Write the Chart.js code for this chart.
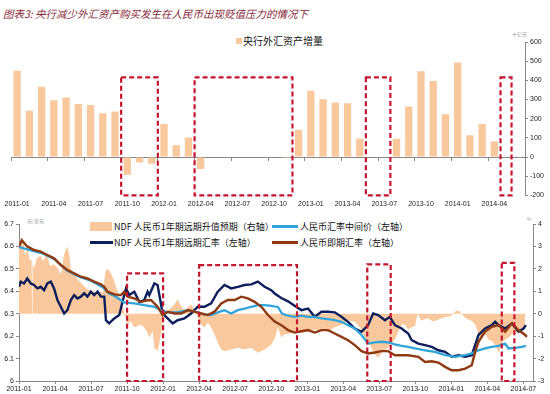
<!DOCTYPE html>
<html>
<head>
<meta charset="utf-8">
<script src="https://cdn.jsdelivr.net/npm/chart.js@4/dist/chart.umd.min.js"></script>
<style>
body { margin:0; width:550px; height:394px; position:relative; background:#fff; overflow:hidden; font-family:"Noto Sans CJK SC", sans-serif; }
canvas { position:absolute; left:0; }
.txt { position:absolute; white-space:nowrap; line-height:1; }
#title { left:3px; top:9px; font-size:10.5px; font-style:italic; color:#862838; }
.sw { position:absolute; }
.lg { font-size:9px; color:#111; }
.unit { font-size:5px; color:#999; }
</style>
</head>
<body>
<div id="title" class="txt">图表3: 央行减少外汇资产购买发生在人民币出现贬值压力的情况下</div>
<div class="sw" style="left:236px;top:38px;width:6px;height:6px;background:#f9c99d"></div>
<div class="txt" style="left:243px;top:36px;font-size:10px;color:#111">央行外汇资产增量</div>
<div class="txt unit" style="left:512px;top:31px">十亿元</div>

<div class="sw" style="left:90px;top:222px;width:22px;height:9px;background:#f9c99d"></div>
<div class="txt lg" style="left:114px;top:222px">NDF 人民币1年期远期升值预期（右轴）</div>
<div class="sw" style="left:272px;top:225px;width:26px;height:2.5px;background:#31a4da"></div>
<div class="txt lg" style="left:300px;top:222px">人民币汇率中间价（左轴）</div>
<div class="sw" style="left:90px;top:241px;width:23px;height:2.5px;background:#0c1f5c"></div>
<div class="txt lg" style="left:114px;top:238px">NDF 人民币1年期远期汇率（左轴）</div>
<div class="sw" style="left:272px;top:241px;width:26px;height:2.5px;background:#8e3a12"></div>
<div class="txt lg" style="left:300px;top:238px">人民币即期汇率（左轴）</div>
<div class="txt unit" style="left:27px;top:218px">元/美元</div>
<div class="txt unit" style="left:527px;top:216px">%</div>

<canvas id="topChart" width="550" height="212" style="top:0"></canvas>
<canvas id="bottomChart" width="550" height="189" style="top:205px"></canvas>

<script>
// 上图：央行外汇资产月度增量（十亿元）
var topLabels = ['2011-01','2011-02','2011-03','2011-04','2011-05','2011-06','2011-07','2011-08','2011-09','2011-10','2011-11','2011-12',
                 '2012-01','2012-02','2012-03','2012-04','2012-05','2012-06','2012-07','2012-08','2012-09','2012-10','2012-11','2012-12',
                 '2013-01','2013-02','2013-03','2013-04','2013-05','2013-06','2013-07','2013-08','2013-09','2013-10','2013-11','2013-12',
                 '2014-01','2014-02','2014-03','2014-04','2014-05','2014-06'];
var fxAssets = [450, 242, 367, 296, 310, 277, 271, 228, 237, -92, -28, -35,
                173, 61, 102, -62, 0, 0, 0, 0, 0, 0, -5, 142,
                346, 301, 284, 280, 97, 0, 0, 95, 263, 448, 396, 223,
                493, 114, 173, 81, 0, 0];
// 红框 [起, 止, 下, 上]
var topBoxes = [[8.5, 11.5, -200, 415], [14.5, 22.5, -200, 415], [28.5, 30.5, -200, 415], [39.5, 40.4, -200, 415]];

// 下图：时间为自2011-01起的月数
var bottomTicks = ['2011-01','2011-04','2011-07','2011-10','2012-01','2012-04','2012-07','2012-10',
                   '2013-01','2013-04','2013-07','2013-10','2014-01','2014-04','2014-07'];

var ndfT = [0, 0.14, 0.3, 0.5, 0.7, 0.9, 1.05, 1.09, 1.13, 1.25, 1.5, 1.8, 2.0, 2.3, 2.6, 2.9, 3.2, 3.5, 3.75, 4.03, 4.2, 4.3,
            4.6, 4.9, 5.15, 5.4, 5.7, 6.0, 6.26, 6.5, 6.82, 7.0, 7.2, 7.37, 7.65, 7.93, 8.2, 8.5, 8.76, 9.04, 9.3, 9.6,
            9.87, 10.16, 10.43, 10.71, 10.85, 11.0, 11.13, 11.27, 11.54, 11.83, 11.96, 12.1, 12.38, 12.66, 12.94, 13.21,
            13.5, 13.77, 14.05, 14.33, 14.61, 14.88, 15.17, 15.44, 15.72, 16.0, 16.28, 16.55, 16.84, 17.11, 17.67, 18.22,
            18.78, 19.34, 19.89, 20.45, 21.01, 21.29, 21.56, 21.84, 22.12, 22.4, 22.95, 23.51, 24.07, 24.62, 25.18, 25.73,
            26.29, 26.85, 27.4, 27.96, 28.38, 28.8, 29.2, 29.63, 29.91, 30.19, 30.74, 31.3, 31.86, 32.13, 32.41, 32.7,
            32.97, 33.2, 33.5, 34.0, 34.5, 35.0, 35.5, 36.0, 36.3, 36.6, 36.9, 37.2, 37.7, 37.98, 38.26, 38.54, 38.81,
            39.09, 39.37, 39.65, 39.93, 40.2, 40.48, 40.76, 41.04, 41.59, 42.15];
var ndfPremium = [3.3, 2.9, 3.4, 2.6, 2.9, 2.4, 2.4, 0, 2.3, 2.0, 2.5, 2.57, 2.35, 2.65, 2.13, 2.2, 2.05, 1.76, 2.65, 3.0, 2.6, 2.05,
            1.76, 1.53, 1.38, 1.24, 1.09, 1.01, 1.0, 0.86, 1.0, 0.94, 1.9, 2.0, 1.83, 1.46, 1.0, 0.56, 0.04, -0.48, -0.33, -0.62,
            -0.55, -0.48, -0.62, -0.85, -1.07, -0.92, -0.77, -1.52, -1.67, -0.92, -0.25, 0, 0.12, 0.27, 0.42, 0.64,
            0.34, 0.12, 0.27, 0.42, 0.19, -0.18, -0.48, -0.62, -0.4, -0.62, -0.92, -1.29, -1.59, -1.67, -1.59, -1.52,
            -1.59, -1.52, -1.74, -1.59, -1.37, -1.1, -0.6, -1.07, -0.92, -0.9, -0.8, -0.85, -0.8, -0.7, -0.75, -0.8,
            -0.6, -0.5, -0.3, -0.35, -0.62, -1.07, -1.37, -1.82, -1.96, -1.74, -1.52, -1.15, -0.48, -0.48, -0.7, -0.6,
            -0.55, 0, -0.3, -0.2, -0.35, -0.25, -0.15, -0.1, 0.1, 0.15, -0.05, -0.2, -0.33, -0.48, -0.92, -1.07, -0.92,
            -1.15, -1.22, -1.37, -1.74, -1.29, -1.15, -1.07, -0.92, -0.77, -0.62];

var fwdT = [0, 0.14, 0.42, 0.69, 0.98, 1.25, 1.53, 1.81, 2.09, 2.36, 2.65, 2.92, 3.2, 3.48, 3.76, 4.03, 4.32, 4.59, 4.87,
            5.15, 5.43, 5.7, 5.98, 6.26, 6.54, 6.82, 7.1, 7.24, 7.51, 7.93, 8.35, 8.62, 8.91, 9.18, 9.6, 10.02, 10.43,
            10.71, 10.85, 11.27, 11.54, 11.69, 11.96, 12.38, 12.8, 13.21, 13.77, 14.33, 14.88, 15.44, 16.0, 16.55, 17.11,
            17.67, 18.22, 18.78, 19.34, 19.89, 20.45, 21.01, 21.29, 21.84, 22.4, 22.95, 23.51, 24.07, 24.62, 25.18, 25.73,
            26.29, 26.85, 27.4, 27.96, 28.52, 29.07, 29.49, 29.91, 30.47, 30.88, 31.3, 31.86, 32.41, 32.7, 33.25, 33.81,
            34.37, 34.92, 35.48, 36.03, 36.59, 37.15, 37.7, 37.98, 38.26, 38.81, 39.37, 39.65, 39.93, 40.48, 41.04, 41.59,
            42.01, 42.21];
var fwdRate = [6.42, 6.443, 6.435, 6.457, 6.435, 6.428, 6.413, 6.42, 6.405, 6.435, 6.443, 6.413, 6.361, 6.331, 6.301, 6.316, 6.361, 6.383, 6.368,
            6.376, 6.391, 6.376, 6.398, 6.383, 6.398, 6.376, 6.376, 6.271, 6.257, 6.279, 6.294, 6.353, 6.413, 6.383, 6.398, 6.353, 6.361,
            6.398, 6.383, 6.435, 6.428, 6.383, 6.301, 6.279, 6.257, 6.271, 6.279, 6.301, 6.331, 6.331, 6.346, 6.398, 6.428,
            6.413, 6.42, 6.428, 6.431, 6.443, 6.42, 6.405, 6.39, 6.37, 6.355, 6.335, 6.316, 6.323, 6.286, 6.309, 6.309,
            6.306, 6.286, 6.264, 6.234, 6.219, 6.249, 6.301, 6.294, 6.271, 6.286, 6.249, 6.234, 6.212, 6.182, 6.167, 6.16,
            6.152, 6.137, 6.13, 6.108, 6.115, 6.108, 6.115, 6.16, 6.205, 6.234, 6.249, 6.264, 6.249, 6.234, 6.257, 6.22,
            6.234, 6.249];

var parityT = [0, 1, 2, 3, 4, 5, 6, 7, 7.5, 8, 8.76, 9.6, 10.43, 11.27, 11.83, 12.38, 13.21, 14.05, 14.88, 15.44, 16.0,
            16.55, 17.11, 17.67, 18.22, 18.78, 19.34, 19.89, 20.45, 21.01, 21.56, 21.9, 22.4, 22.95, 23.51, 24.07, 24.62,
            25.18, 25.73, 26.29, 26.85, 27.4, 27.96, 28.52, 29.07, 29.63, 30.19, 30.74, 31.3, 31.86, 32.41, 32.97, 33.81,
            34.64, 35.48, 36.31, 37.15, 37.7, 38.26, 38.81, 39.37, 39.93, 40.48, 40.76, 41.32, 41.88, 42.21];
var parityRate = [6.597, 6.582, 6.568, 6.542, 6.492, 6.465, 6.447, 6.417, 6.39, 6.378, 6.35, 6.346, 6.338, 6.331, 6.316, 6.306, 6.306, 6.316, 6.306, 6.297, 6.294,
            6.306, 6.316, 6.301, 6.316, 6.323, 6.331, 6.338, 6.338, 6.335, 6.33, 6.301, 6.291, 6.286, 6.291, 6.286, 6.286,
            6.279, 6.276, 6.271, 6.264, 6.249, 6.234, 6.205, 6.167, 6.172, 6.175, 6.172, 6.163, 6.157, 6.152, 6.145, 6.137,
            6.13, 6.115, 6.108, 6.115, 6.123, 6.137, 6.145, 6.152, 6.157, 6.167, 6.145, 6.148, 6.152, 6.157];

var spotT = [0, 0.23, 0.69, 1.25, 1.81, 2.36, 2.92, 3.48, 4.03, 4.59, 5.15, 5.7, 6.26, 6.82, 7.1, 7.37, 7.93, 8.49, 8.76,
            9.04, 9.6, 10.16, 10.71, 10.99, 11.54, 11.96, 12.38, 12.94, 13.5, 14.05, 14.61, 15.17, 15.72, 16.28, 16.84,
            17.39, 17.95, 18.51, 19.06, 19.62, 20.18, 20.73, 21.29, 21.84, 22.4, 22.95, 23.51, 24.07, 24.62, 25.18, 25.73,
            26.29, 26.85, 27.4, 27.96, 28.52, 29.07, 29.63, 30.19, 30.74, 31.3, 31.86, 32.41, 33.25, 33.81, 34.37, 34.92,
            35.48, 36.03, 36.59, 37.15, 37.7, 37.98, 38.26, 38.81, 39.37, 39.93, 40.48, 41.04, 41.59, 42.15, 42.29];
var spotRate = [6.6, 6.628, 6.6, 6.584, 6.577, 6.562, 6.547, 6.517, 6.495, 6.48, 6.465, 6.457, 6.443, 6.431, 6.42, 6.398, 6.386, 6.383, 6.398,
            6.376, 6.368, 6.353, 6.36, 6.361, 6.331, 6.294, 6.309, 6.301, 6.301, 6.316, 6.309, 6.301, 6.294, 6.309, 6.346,
            6.361, 6.361, 6.376, 6.368, 6.353, 6.331, 6.294, 6.265, 6.249, 6.227, 6.216, 6.222, 6.227, 6.216, 6.227, 6.227,
            6.212, 6.197, 6.182, 6.16, 6.133, 6.123, 6.127, 6.133, 6.133, 6.115, 6.115, 6.115, 6.108, 6.085, 6.088, 6.082,
            6.063, 6.048, 6.048, 6.055, 6.07, 6.13, 6.175, 6.22, 6.242, 6.249, 6.22, 6.257, 6.227, 6.205, 6.197];

var bottomBoxes = [[9, 12, 6.0, 6.48], [15, 23.15, 6.0, 6.517], [29, 30.95, 6.0, 6.52], [40.2, 41.25, 6.0, 6.527]];

var PEACH = '#f9c99d';
var tickFont = { family: "'Liberation Sans', Arial, sans-serif", size: 7 };

var boxPlugin = {
    id: 'redBoxes',
    afterDatasetsDraw: function(chart, args, opts) {
        var ctx = chart.ctx;
        var xs = chart.scales.x, ys = chart.scales.y;
        ctx.save();
        ctx.strokeStyle = '#c4162e';
        ctx.lineWidth = 2.2;
        ctx.setLineDash([5, 3]);
        opts.boxes.forEach(function(b) {
            var x1 = xs.getPixelForValue(b[0]), x2 = xs.getPixelForValue(b[1]);
            var y1 = ys.getPixelForValue(b[3]), y2 = ys.getPixelForValue(b[2]);
            ctx.strokeRect(x1, y1, x2 - x1, y2 - y1);
        });
        ctx.restore();
    }
};

function pairs(t, v) {
    return t.map(function(e, i) { return { x: e, y: v[i] }; });
}

new Chart(document.getElementById('topChart'), {
    type: 'bar',
    data: {
        labels: topLabels,
        datasets: [{
            label: '央行外汇资产增量',
            data: fxAssets,
            backgroundColor: PEACH,
            categoryPercentage: 1,
            barPercentage: 0.6
        }]
    },
    plugins: [boxPlugin],
    options: {
        responsive: false,
        animation: false,
        devicePixelRatio: 1,
        layout: { padding: { left: 11, top: 42, right: 0, bottom: 0 } },
        plugins: {
            legend: { display: false },
            tooltip: { enabled: false },
            redBoxes: { boxes: topBoxes }
        },
        scales: {
            x: {
                type: 'category',
                offset: true,
                grid: { display: false, drawTicks: false, offset: true },
                border: { display: false },
                ticks: {
                    autoSkip: false, maxRotation: 0, padding: 4, font: tickFont, color: '#222',
                    callback: function(val, i) { return i % 3 === 0 ? topLabels[i] : ''; }
                },
                afterFit: function(s) { s.height = 16.6; }
            },
            x2: {
                type: 'category',
                position: { y: 0 },
                offset: true,
                grid: {
                    offset: true, drawOnChartArea: false, drawTicks: true, tickLength: 3,
                    color: function(c) { return c.index % 3 === 0 ? '#888' : 'rgba(0,0,0,0)'; }
                },
                border: { display: true, color: '#888', width: 1 },
                ticks: { display: false }
            },
            y: {
                position: 'right',
                min: -200, max: 600,
                ticks: { stepSize: 100, font: tickFont, color: '#222', padding: 2 },
                grid: { drawOnChartArea: false, drawTicks: true, tickLength: 3, color: '#888' },
                border: { color: '#888' },
                afterFit: function(s) { s.width = 25; }
            }
        }
    }
});

new Chart(document.getElementById('bottomChart'), {
    type: 'line',
    data: {
        datasets: [
            { label: 'NDF 人民币1年期远期升值预期（右轴）', data: pairs(ndfT, ndfPremium), yAxisID: 'y2',
              fill: 'origin', backgroundColor: PEACH, borderWidth: 0, pointRadius: 0, order: 4 },
            { label: 'NDF 人民币1年期远期汇率（左轴）', data: pairs(fwdT, fwdRate), yAxisID: 'y',
              borderColor: '#0c1f5c', borderWidth: 2.4, pointRadius: 0, fill: false, order: 3 },
            { label: '人民币汇率中间价（左轴）', data: pairs(parityT, parityRate), yAxisID: 'y',
              borderColor: '#31a4da', borderWidth: 2.3, pointRadius: 0, fill: false, order: 2 },
            { label: '人民币即期汇率（左轴）', data: pairs(spotT, spotRate), yAxisID: 'y',
              borderColor: '#8e3a12', borderWidth: 2.4, pointRadius: 0, fill: false, order: 1 }
        ]
    },
    plugins: [boxPlugin],
    options: {
        responsive: false,
        animation: false,
        devicePixelRatio: 1,
        layout: { padding: { left: 0, top: 19, right: 0, bottom: 0 } },
        plugins: {
            legend: { display: false },
            tooltip: { enabled: false },
            redBoxes: { boxes: bottomBoxes }
        },
        scales: {
            x: {
                type: 'linear',
                min: 0, max: 42.8,
                ticks: {
                    stepSize: 3, includeBounds: false, maxRotation: 0, autoSkip: false, padding: 1,
                    font: tickFont, color: '#222',
                    callback: function(v) { return bottomTicks[Math.round(v / 3)]; }
                },
                grid: { drawOnChartArea: false, drawTicks: true, tickLength: 3, color: '#888' },
                border: { color: '#888' },
                afterFit: function(s) { s.height = 13; }
            },
            y: {
                position: 'left',
                min: 6, max: 6.7,
                ticks: {
                    stepSize: 0.1, font: tickFont, color: '#222', padding: 2,
                    callback: function(v) { return Math.abs(v - 6) < 1e-6 ? '6' : v.toFixed(1); }
                },
                grid: { drawOnChartArea: false, drawTicks: true, tickLength: 3, color: '#888' },
                border: { color: '#888' },
                afterFit: function(s) { s.width = 19; }
            },
            y2: {
                position: 'right',
                min: -3, max: 4,
                ticks: { stepSize: 1, font: tickFont, color: '#222', padding: 2 },
                grid: { drawOnChartArea: false, drawTicks: true, tickLength: 3, color: '#888' },
                border: { color: '#888' },
                afterFit: function(s) { s.width = 17; }
            }
        }
    }
});
</script>
</body>
</html>
